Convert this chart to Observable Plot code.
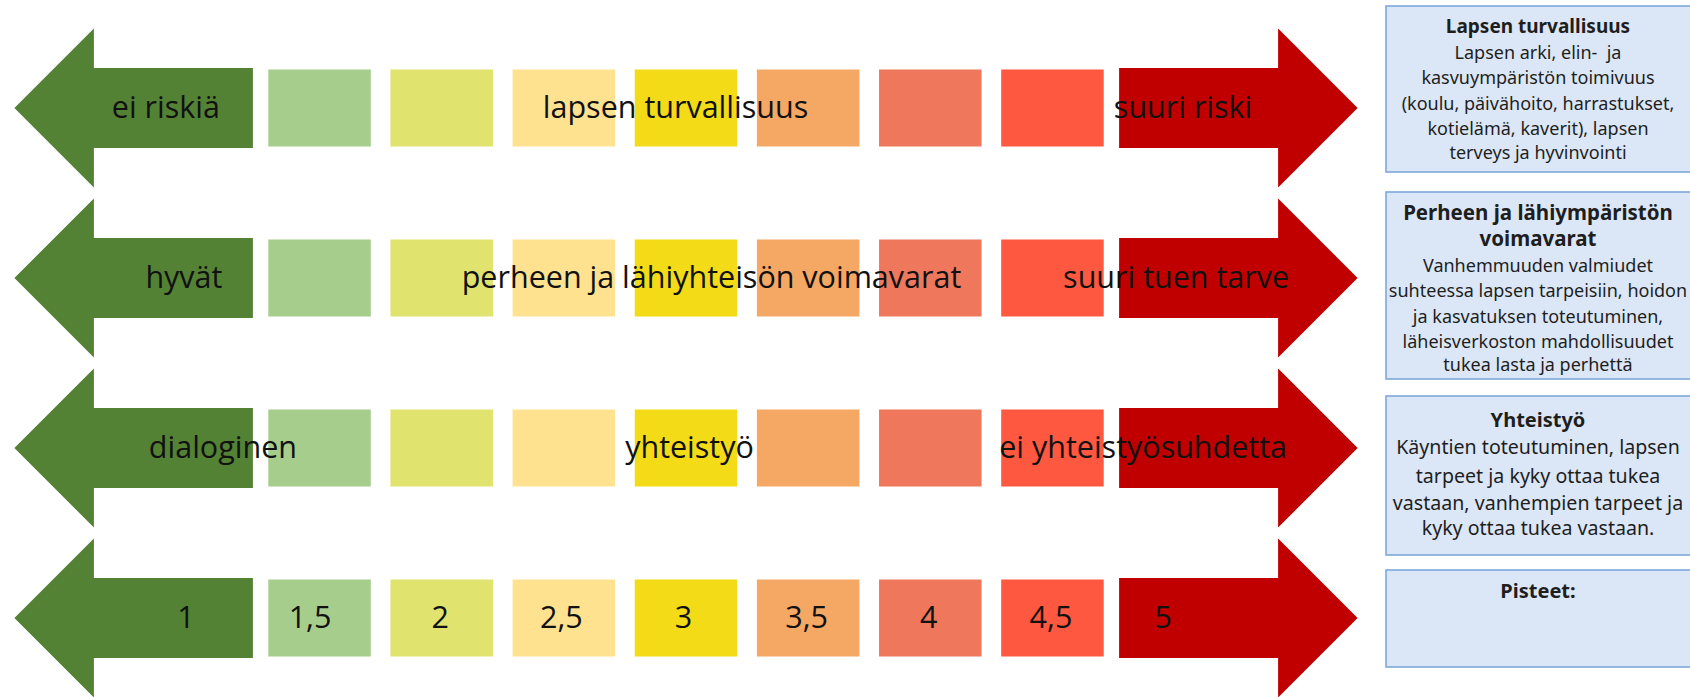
<!DOCTYPE html>
<html>
<head>
<meta charset="utf-8">
<script src="https://cdn.jsdelivr.net/npm/d3@7"></script>
<script src="https://cdn.jsdelivr.net/npm/@observablehq/plot@0.6"></script>
<style>
  html, body { margin: 0; padding: 0; background: #ffffff; }
  #chart svg { display: block; }
</style>
</head>
<body>
<div id="chart"></div>
<script>
// ---------- DATA ----------
const scores = [1, 1.5, 2, 2.5, 3, 3.5, 4, 4.5, 5];
const scoreLabels = ["1", "1,5", "2", "2,5", "3", "3,5", "4", "4,5", "5"];
const scoreColors = ["#548235", "#a6cd8b", "#e0e36d", "#fee290", "#f3dc17", "#f5a764", "#ee775c", "#ff5840", "#c00000"];

const dimensions = ["lapsen turvallisuus", "perheen ja lähiyhteisön voimavarat", "yhteistyö", "pisteet"];
const lowEndLabels = ["ei riskiä", "hyvät", "dialoginen"];
const midLabels = ["lapsen turvallisuus", "perheen ja lähiyhteisön voimavarat", "yhteistyö"];
const highEndLabels = ["suuri riski", "suuri tuen tarve", "ei yhteistyösuhdetta"];

const panelTitles = [
  ["Lapsen turvallisuus"],
  ["Perheen ja lähiympäristön", "voimavarat"],
  ["Yhteistyö"],
  ["Pisteet:"]
];
const panelBodies = [
  ["Lapsen arki, elin-  ja", "kasvuympäristön toimivuus", "(koulu, päivähoito, harrastukset,", "kotielämä, kaverit), lapsen", "terveys ja hyvinvointi"],
  ["Vanhemmuuden valmiudet", "suhteessa lapsen tarpeisiin, hoidon", "ja kasvatuksen toteutuminen,", "läheisverkoston mahdollisuudet", "tukea lasta ja perhettä"],
  ["Käyntien toteutuminen, lapsen", "tarpeet ja kyky ottaa tukea", "vastaan, vanhempien tarpeet ja", "kyky ottaa tukea vastaan."],
  []
];

// ---------- LAYOUT (pixels / styles) ----------
const L = {
  width: 1690, height: 697,
  xRange: [75.25, 1296.75],     // x(0.5) .. x(5.5)
  yRange: [108, 618],           // row 0 .. row 3
  squareHalfW: 51.25, squareHalfH: 38.5,
  shaftHalfH: 40, headHalfH: 79.5, shaftInner: 55.5, headBase: 103.5, tip: 183,
  lowNudge: [-32, -14, 25], midNudge: [-11, 25, 3], highNudge: [8, 1, -32],
  numberNudge: [-12, -10, -2, -3, -3, -2, -2, -2, -12],
  labelSize: 30.5,
  mainFont: "'Open Sans', 'Noto Sans', sans-serif",
  panelFont: "'Noto Sans', 'Open Sans', sans-serif",
  panelX: [1386, 1702], panelCenterX: 1538,
  panelY: [[6, 172], [192, 379], [396, 555], [570, 667]],
  panelTitleY: [[26], [213, 239], [420], [591]],
  panelBodyY: [[53, 78, 104, 129, 153], [266, 291, 317, 342, 365], [447, 476, 503, 528], []],
  panelTitleSize: [19, 20.5, 20, 20],
  panelBodySize: [18, 18, 19.6, 19.6],
  panelFill: "#dbe7f6", panelStroke: "#7ea9dd"
};
const pxPerUnit = (L.xRange[1] - L.xRange[0]) / 5;
const rowPx = (L.yRange[1] - L.yRange[0]) / 3;

// ---------- DERIVED TABLES ----------
const innerCells = [];
dimensions.forEach((dim, r) => {
  scores.forEach((s, i) => {
    if (i > 0 && i < scores.length - 1) innerCells.push({row: r, score: s, color: scoreColors[i]});
  });
});
const rowTexts = [];
lowEndLabels.forEach((t, r) => rowTexts.push({row: r, anchor: scores[0], nudge: L.lowNudge[r], text: t}));
midLabels.forEach((t, r) => rowTexts.push({row: r, anchor: scores[4], nudge: L.midNudge[r], text: t}));
highEndLabels.forEach((t, r) => rowTexts.push({row: r, anchor: scores[8], nudge: L.highNudge[r], text: t}));
const numberTexts = scores.map((s, i) => ({row: dimensions.length - 1, anchor: s, nudge: L.numberNudge[i], text: scoreLabels[i]}));

// ---------- RENDER HELPERS ----------
function arrowsMark(index, scales) {
  const g = d3.create("svg:g");
  dimensions.forEach((dim, r) => {
    const cy = scales.y(r);
    [[0, -1], [scores.length - 1, 1]].forEach(([i, dir]) => {
      const cx = scales.x(scores[i]);
      const pts = [
        [cx - dir * L.shaftInner, cy - L.shaftHalfH],
        [cx + dir * L.headBase, cy - L.shaftHalfH],
        [cx + dir * L.headBase, cy - L.headHalfH],
        [cx + dir * L.tip, cy],
        [cx + dir * L.headBase, cy + L.headHalfH],
        [cx + dir * L.headBase, cy + L.shaftHalfH],
        [cx - dir * L.shaftInner, cy + L.shaftHalfH]
      ];
      g.append("polygon")
        .attr("points", pts.map(p => p.join(",")).join(" "))
        .attr("fill", scoreColors[i]);
    });
  });
  return g.node();
}

function panelsMark() {
  const g = d3.create("svg:g").attr("font-family", L.panelFont).attr("fill", "#1e1e1e");
  panelTitles.forEach((titles, p) => {
    const [y0, y1] = L.panelY[p];
    g.append("rect")
      .attr("x", L.panelX[0]).attr("y", y0)
      .attr("width", L.panelX[1] - L.panelX[0]).attr("height", y1 - y0)
      .attr("fill", L.panelFill).attr("stroke", L.panelStroke).attr("stroke-width", 1.6);
    titles.forEach((t, k) => {
      g.append("text")
        .attr("x", L.panelCenterX).attr("y", L.panelTitleY[p][k])
        .attr("dy", "0.35em").attr("text-anchor", "middle")
        .attr("font-weight", "bold").attr("font-size", L.panelTitleSize[p])
        .text(t);
    });
    panelBodies[p].forEach((t, k) => {
      g.append("text")
        .attr("x", L.panelCenterX).attr("y", L.panelBodyY[p][k])
        .attr("dy", "0.35em").attr("text-anchor", "middle")
        .attr("font-size", L.panelBodySize[p])
        .text(t);
    });
  });
  return g.node();
}

// ---------- PLOT ----------
const chart = Plot.plot({
  width: L.width,
  height: L.height,
  margin: 0,
  style: {fontFamily: L.mainFont, background: "#ffffff", overflow: "visible"},
  x: {domain: [0.5, 5.5], range: L.xRange, axis: null},
  y: {domain: [0, 3], range: L.yRange, axis: null},
  marks: [
    arrowsMark,
    Plot.rect(innerCells, {
      x1: d => d.score - L.squareHalfW / pxPerUnit,
      x2: d => d.score + L.squareHalfW / pxPerUnit,
      y1: d => d.row - L.squareHalfH / rowPx,
      y2: d => d.row + L.squareHalfH / rowPx,
      fill: d => d.color
    }),
    Plot.text(rowTexts, {
      x: d => d.anchor + d.nudge / pxPerUnit,
      y: "row",
      text: "text",
      fontSize: L.labelSize,
      fill: "#111111",
      lineAnchor: "middle"
    }),
    Plot.text(numberTexts, {
      x: d => d.anchor + d.nudge / pxPerUnit,
      y: "row",
      text: "text",
      fontSize: L.labelSize,
      fill: "#111111",
      lineAnchor: "middle"
    }),
    panelsMark
  ]
});
document.getElementById("chart").appendChild(chart);
</script>
</body>
</html>
